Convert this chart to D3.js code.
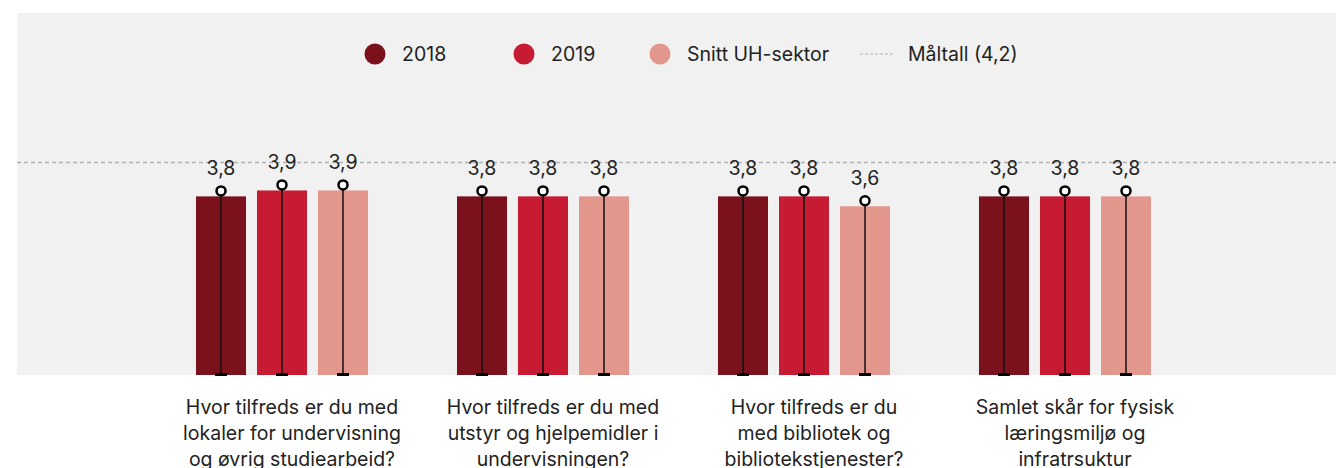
<!DOCTYPE html>
<html>
<head>
<meta charset="utf-8">
<script src="https://cdn.jsdelivr.net/npm/d3@7"></script>
<style>
  body { margin: 0; background: #fff; }
  svg { display: block; font-family: Inter, "Liberation Sans", sans-serif; }
</style>
</head>
<body>
<div id="chart"></div>
<script>
// data
const categories = [
    ["Hvor tilfreds er du med", "lokaler for undervisning", "og øvrig studiearbeid?"],
    ["Hvor tilfreds er du med", "utstyr og hjelpemidler i", "undervisningen?"],
    ["Hvor tilfreds er du", "med bibliotek og", "bibliotekstjenester?"],
    ["Samlet skår for fysisk", "læringsmiljø og", "infratrsuktur"]
]
const seriesNames = ["2018", "2019", "Snitt UH-sektor"]
const values2018 = [3.77, 3.77, 3.77, 3.77]
const values2019 = [3.86, 3.77, 3.77, 3.77]
const valuesSnitt = [3.86, 3.77, 3.62, 3.77]
const targetValue = 4.2
const targetLabel = "Måltall (4,2)"
const colors = ["#7b111c", "#c71a33", "#e3978c"]

const width = 1336, height = 468
const plot = { left: 17, top: 13, right: 1336, bottom: 375 }
const fontSize = "19.5px"

const svg = d3.select("#chart").append("svg")
    .attr("width", width)
    .attr("height", height)

svg.append("rect")
    .attr("x", plot.left)
    .attr("y", plot.top)
    .attr("width", plot.right - plot.left)
    .attr("height", plot.bottom - plot.top)
    .attr("fill", "#f1f1f1")

const x0 = d3.scaleBand()
    .domain(d3.range(categories.length))
    .range([151.5, 1195.5])
    .padding(0)

const x1 = d3.scaleBand()
    .domain(seriesNames)
    .range([-91.5, 91.5])
    .paddingInner(0.18)
    .paddingOuter(0.09)

const y = d3.scaleLinear()
    .domain([0, 5])
    .range([439.7, 439.7 - 5 * 66])

const fmt = v => d3.format(".1f")(v).replace(".", ",")

const rows = []
const allSeries = [values2018, values2019, valuesSnitt]
categories.forEach((c, i) => {
    allSeries.forEach((vals, s) => {
        rows.push({ cat: i, series: seriesNames[s], color: colors[s], value: vals[i] })
    })
})

// target line
svg.append("line")
    .attr("x1", plot.left)
    .attr("x2", plot.right)
    .attr("y1", y(targetValue))
    .attr("y2", y(targetValue))
    .attr("stroke", "#b3b3b3")
    .attr("stroke-width", 1.5)
    .attr("stroke-dasharray", "4,3")

const markerR = 4.5
const g = svg.selectAll("g.bar")
    .data(rows)
    .enter()
    .append("g")
    .attr("class", "bar")
    .attr("transform", d => "translate(" + (x0(d.cat) + x0.bandwidth() / 2) + ",0)")

// bars sit just under the marker
g.append("rect")
    .attr("x", d => x1(d.series))
    .attr("y", d => y(d.value) + markerR + 1)
    .attr("width", x1.bandwidth())
    .attr("height", d => plot.bottom - y(d.value) - markerR - 1)
    .attr("fill", d => d.color)

g.append("line")
    .attr("x1", d => x1(d.series) + x1.bandwidth() / 2)
    .attr("x2", d => x1(d.series) + x1.bandwidth() / 2)
    .attr("y1", d => y(d.value))
    .attr("y2", plot.bottom)
    .attr("stroke", "#111")
    .attr("stroke-width", 1.5)

g.append("rect")
    .attr("x", d => x1(d.series) + x1.bandwidth() / 2 - 6)
    .attr("y", plot.bottom - 2)
    .attr("width", 12)
    .attr("height", 3)
    .attr("fill", "#000")

g.append("circle")
    .attr("cx", d => x1(d.series) + x1.bandwidth() / 2)
    .attr("cy", d => y(d.value))
    .attr("r", markerR)
    .attr("fill", "#fff")
    .attr("stroke", "#000")
    .attr("stroke-width", 2.5)

g.append("text")
    .attr("x", d => x1(d.series) + x1.bandwidth() / 2)
    .attr("y", d => y(d.value) - 16)
    .attr("text-anchor", "middle")
    .attr("fill", "#222")
    .style("font-size", fontSize)
    .text(d => fmt(d.value))

// category labels under the plot
const labels = svg.selectAll("text.cat")
    .data(categories)
    .enter()
    .append("text")
    .attr("class", "cat")
    .attr("text-anchor", "middle")
    .attr("fill", "#222")
    .style("font-size", fontSize)

labels.selectAll("tspan")
    .data((d, i) => d.map(line => ({ line: line, cat: i })))
    .enter()
    .append("tspan")
    .attr("x", d => x0(d.cat) + x0.bandwidth() / 2 + 10)
    .attr("y", (d, j) => 414 + j * 26)
    .text(d => d.line)

// legend
const legend = svg.append("g").attr("transform", "translate(0,54)")
const legendX = [375, 524, 660]
seriesNames.forEach((name, i) => {
    legend.append("circle")
        .attr("cx", legendX[i])
        .attr("cy", 0)
        .attr("r", 10.5)
        .attr("fill", colors[i])
    legend.append("text")
        .attr("x", legendX[i] + 27)
        .attr("y", 0)
        .attr("dy", "0.35em")
        .attr("fill", "#222")
        .style("font-size", fontSize)
        .text(name)
})
legend.append("line")
    .attr("x1", 860)
    .attr("x2", 894)
    .attr("stroke", "#b3b3b3")
    .attr("stroke-width", 1.2)
    .attr("stroke-dasharray", "3,2")
legend.append("text")
    .attr("x", 908)
    .attr("y", 0)
    .attr("dy", "0.35em")
    .attr("fill", "#222")
    .style("font-size", fontSize)
    .text(targetLabel)
</script>
</body>
</html>
